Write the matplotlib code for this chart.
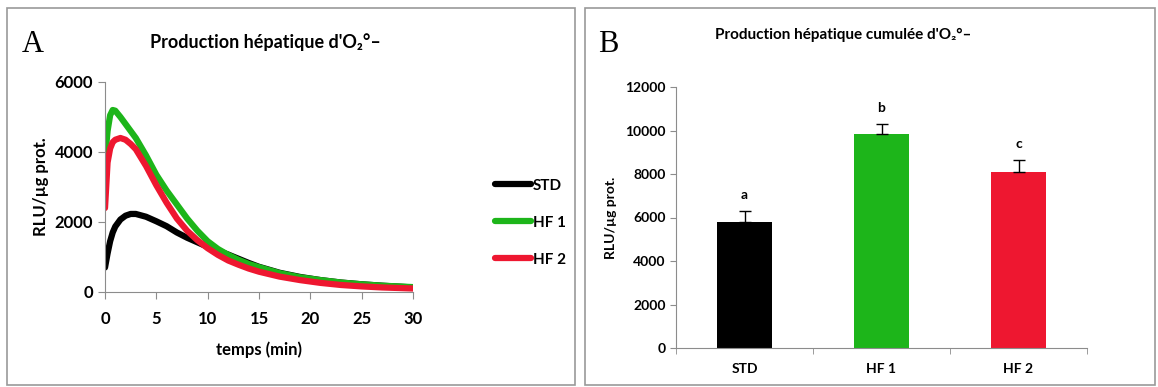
import matplotlib
matplotlib.use("Agg")
import matplotlib.pyplot as plt
from matplotlib.patches import Rectangle

# panel A: kinetics
temps = [0, 0.25, 0.5, 0.75, 1, 1.5, 2, 2.5, 3, 4, 5, 6, 7, 8, 9, 10, 11, 12, 13, 14,
         15, 17, 19, 21, 23, 25, 27, 30]
std = [700, 1100, 1450, 1700, 1870, 2070, 2180, 2230, 2230, 2150, 2020, 1880, 1700, 1550,
       1420, 1290, 1180, 1070, 950, 830, 720, 550, 430, 340, 270, 220, 180, 130]
hf1 = [3800, 4600, 5050, 5200, 5180, 5000, 4800, 4600, 4400, 3900, 3350, 2900, 2500, 2100,
       1750, 1450, 1230, 1060, 920, 800, 710, 540, 420, 340, 270, 220, 180, 140]
hf2 = [2400, 3700, 4100, 4280, 4350, 4400, 4350, 4230, 4080, 3600, 3050, 2550, 2100, 1750,
       1480, 1250, 1060, 900, 780, 670, 580, 440, 340, 260, 200, 160, 130, 100]

# panel B: cumulative
groupes = ["STD", "HF 1", "HF 2"]
cumul = [5800, 9850, 8100]
erreurs = [500, 450, 550]
lettres = ["a", "b", "c"]

colors = ["#000000", "#1db51a", "#ee1730"]
FONT = ["Lato", "DejaVu Sans"]
plt.rcParams["font.family"] = FONT
plt.rcParams["font.weight"] = "bold"

fig = plt.figure(figsize=(11.58, 3.87), dpi=100)
W, H = 1158, 387

def fx(px):
    return px / W

def fy(py):
    return 1 - py / H

# panel frames
for x0, x1 in [(7, 575), (585, 1155)]:
    fig.patches.append(Rectangle((fx(x0), fy(385)), fx(x1 - x0), (385 - 8) / H,
                                 transform=fig.transFigure, fill=False,
                                 edgecolor="#999999", linewidth=1.2))

gray = "#8c8c8c"

# ---- A ----
axA = fig.add_axes([fx(105), fy(292), fx(413 - 105), (292 - 82) / H])
for ys, lab, c in zip([std, hf1, hf2], ["STD", "HF 1", "HF 2"], colors):
    axA.plot(temps, ys, color=c, lw=4.5, solid_capstyle="round", label=lab)
axA.set_xlim(0, 30)
axA.set_ylim(0, 6000)
axA.set_xticks(range(0, 31, 5))
axA.set_yticks(range(0, 6001, 2000))
axA.spines[["top", "right"]].set_visible(False)
for s in ["left", "bottom"]:
    axA.spines[s].set_color(gray)
axA.tick_params(colors=gray, labelcolor="black", labelsize=12, length=5, direction="out")
axA.tick_params(axis="x", pad=9)
axA.set_xlabel("temps (min)", fontsize=12, fontweight="bold", labelpad=10)
axA.set_ylabel("RLU/µg prot.", fontsize=12, fontweight="bold", labelpad=4)
axA.legend(loc="center left", bbox_to_anchor=(1.22, 0.33), frameon=False,
           fontsize=11, handlelength=2.4, handletextpad=0.1, labelspacing=1.5)
fig.text(fx(265), fy(42), "Production hépatique d'O₂°–", ha="center", va="center",
         fontsize=13, fontweight="bold")
fig.text(fx(33), fy(45), "A", ha="center", va="center", fontsize=22,
         family="Liberation Serif", fontweight="normal")

# ---- B ----
axB = fig.add_axes([fx(676), fy(348), fx(1087 - 676), (348 - 87) / H])
pos = list(range(len(groupes)))
axB.bar(pos, cumul, width=0.4, color=colors, zorder=2)
axB.errorbar(pos, cumul, yerr=[[0] * 3, erreurs], fmt="none", ecolor="black",
             elinewidth=1, capsize=4, capthick=1, zorder=3)
for p, v, e, l in zip(pos, cumul, erreurs, lettres):
    axB.text(p, v + e + 450, l, ha="center", va="bottom", fontsize=10, fontweight="bold")
axB.set_xlim(-0.5, 2.5)
axB.set_ylim(0, 12000)
axB.set_yticks(range(0, 12001, 2000))
axB.set_xticks(pos)
axB.set_xticklabels(groupes)
axB.set_xticks([-0.5, 0.5, 1.5, 2.5], minor=True)
axB.tick_params(axis="x", which="major", length=0, pad=11)
axB.tick_params(axis="x", which="minor", length=4, colors=gray, direction="out")
axB.tick_params(axis="y", colors=gray, labelcolor="black", length=4, direction="out")
axB.tick_params(labelsize=10)
axB.spines[["top", "right"]].set_visible(False)
for s in ["left", "bottom"]:
    axB.spines[s].set_color(gray)
axB.set_ylabel("RLU/µg prot.", fontsize=10, fontweight="bold", labelpad=6)
fig.text(fx(843), fy(35), "Production hépatique cumulée d'O₂°–", ha="center",
         va="center", fontsize=11, fontweight="bold")
fig.text(fx(608), fy(44), "B", ha="center", va="center", fontsize=22,
         family="Liberation Serif", fontweight="normal")

fig.savefig("out.png", dpi=100)
